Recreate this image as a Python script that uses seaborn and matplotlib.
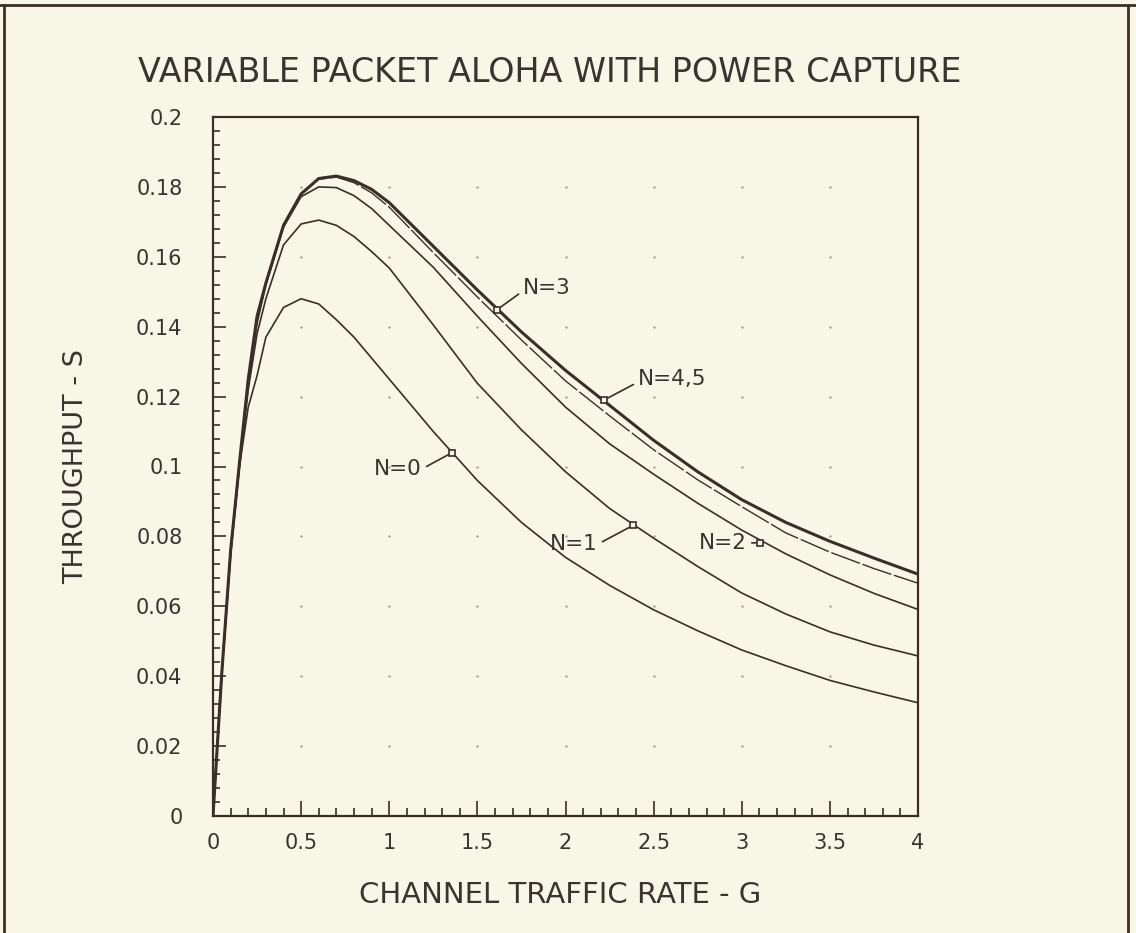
import matplotlib
matplotlib.use("Agg")
import matplotlib.pyplot as plt
import seaborn as sns
import numpy as np
from matplotlib.lines import Line2D

# data
g_rate = [0, 0.05, 0.1, 0.15, 0.2, 0.25, 0.3, 0.4, 0.5, 0.6, 0.7, 0.8, 0.9, 1.0,
          1.25, 1.5, 1.75, 2.0, 2.25, 2.5, 2.75, 3.0, 3.25, 3.5, 3.75, 4.0]

s_n0 = [0, 0.041, 0.075, 0.100, 0.117, 0.126, 0.137, 0.1455, 0.148, 0.1465, 0.142, 0.137, 0.131, 0.125,
        0.110, 0.096, 0.084, 0.074, 0.066, 0.059, 0.053, 0.0475, 0.043, 0.0388, 0.0355, 0.0324]
s_n1 = [0, 0.041, 0.075, 0.100, 0.122, 0.138, 0.148, 0.1634, 0.1694, 0.1705, 0.169, 0.1658, 0.1615, 0.1568,
        0.1405, 0.1238, 0.1105, 0.0985, 0.0880, 0.0795, 0.0714, 0.0638, 0.0578, 0.0527, 0.0489, 0.0458]
s_n2 = [0, 0.041, 0.076, 0.101, 0.124, 0.141, 0.152, 0.1685, 0.1772, 0.180, 0.1798, 0.1775, 0.1738, 0.169,
        0.157, 0.143, 0.1295, 0.117, 0.1065, 0.0978, 0.0895, 0.0818, 0.0750, 0.069, 0.0637, 0.0591]
s_n3 = [0, 0.041, 0.076, 0.101, 0.125, 0.143, 0.1525, 0.169, 0.178, 0.1822, 0.1828, 0.1812, 0.1783, 0.1742,
        0.1612, 0.1485, 0.1362, 0.1245, 0.1145, 0.1048, 0.0962, 0.0885, 0.081, 0.0755, 0.0708, 0.0666]
s_n45 = [0, 0.041, 0.076, 0.101, 0.125, 0.143, 0.1525, 0.169, 0.178, 0.1824, 0.1831, 0.1818, 0.1793, 0.1755,
         0.163, 0.1505, 0.1385, 0.1275, 0.1175, 0.1075, 0.0985, 0.0905, 0.084, 0.0786, 0.0738, 0.0692]

curve_labels = ["N=0", "N=1", "N=2", "N=3", "N=4,5"]
# where each label's leader line touches its curve
label_g = [1.354, 2.385, 3.103, 1.61, 2.218]
label_s = [0.1039, 0.0832, 0.0782, 0.1448, 0.119]

x_ticks = [0, 0.5, 1, 1.5, 2, 2.5, 3, 3.5, 4]
x_tick_labels = ["0", "0.5", "1", "1.5", "2", "2.5", "3", "3.5", "4"]
y_ticks = [0, 0.02, 0.04, 0.06, 0.08, 0.1, 0.12, 0.14, 0.16, 0.18, 0.2]
y_tick_labels = ["0", "0.02", "0.04", "0.06", "0.08", "0.1", "0.12", "0.14", "0.16", "0.18", "0.2"]

title = "VARIABLE PACKET ALOHA WITH POWER CAPTURE"
x_label = "CHANNEL TRAFFIC RATE - G"
y_label = "THROUGHPUT - S"

# style
sns.set_style("ticks")
plt.rcParams["font.family"] = ["DejaVu Sans"]

bg = "#f8f6e6"
ink = "#3b2e29"
text_ink = "#3a3430"

W, H = 1136, 933
fig = plt.figure(figsize=(W / 100, H / 100), dpi=100, facecolor=bg)
ax = fig.add_axes([213 / W, (H - 816) / H, (918 - 213) / W, (816 - 117) / H])
ax.set_facecolor(bg)

# faint dots where the grid would be
gx, gy = np.meshgrid(x_ticks[1:-1], y_ticks[1:-1])
ax.scatter(gx.ravel(), gy.ravel(), s=3, color="#a8a196", linewidths=0, zorder=1)

# curves
series = [s_n0, s_n1, s_n2, s_n3, s_n45]
widths = [1.2, 1.2, 1.2, 1.0, 2.2]
styles = ["-", "-", "-", (0, (22, 2)), "-"]
for vals, lw, ls in zip(series, widths, styles):
    sns.lineplot(x=g_rate, y=vals, ax=ax, color=ink, lw=lw, linestyle=ls, legend=False, zorder=3)

# labels with leader lines
text_pos = [(1.186, 0.0993, "right"), (2.184, 0.0778, "right"), (3.03, 0.0781, "right"),
            (1.759, 0.1511, "left"), (2.411, 0.125, "left")]
for lab, mg, ms, (tx, ty, ha) in zip(curve_labels, label_g, label_s, text_pos):
    rel = (1, 0.5) if ha == "right" else (0, 0.35)
    ax.annotate(lab, xy=(mg, ms), xytext=(tx, ty), ha=ha, va="center", fontsize=15.5,
                color=text_ink,
                arrowprops=dict(arrowstyle="-", color=ink, lw=1.2, shrinkA=1, shrinkB=2,
                                relpos=rel))
    ax.plot([mg], [ms], marker="s", ms=4.5, mfc=bg, mec=ink, mew=1.2, zorder=5)

ax.set_xlim(0, 4)
ax.set_ylim(0, 0.2)
ax.set_xticks(x_ticks)
ax.set_xticklabels(x_tick_labels)
ax.set_xticks(np.arange(0, 4.001, 0.1), minor=True)
ax.set_yticks(y_ticks)
ax.set_yticklabels(y_tick_labels)
ax.set_yticks(np.arange(0, 0.2001, 0.004), minor=True)

ax.tick_params(which="both", direction="in", color=ink, width=1.2, labelcolor=text_ink)
ax.tick_params(axis="x", which="major", length=11, pad=12, labelsize=15)
ax.tick_params(axis="x", which="minor", length=6)
ax.tick_params(axis="y", which="major", length=9, pad=22, labelsize=15)
ax.tick_params(axis="y", which="minor", length=5)
for sp in ax.spines.values():
    sp.set_color(ink)
    sp.set_linewidth(1.6)

ax.set_xlabel("")
ax.set_ylabel("")

fig.text(550 / W, 1 - 73 / H, title, ha="center", va="center", fontsize=24, color=text_ink)
fig.text(560 / W, 1 - 895 / H, x_label, ha="center", va="center", fontsize=21, color=text_ink)
fig.text(76 / W, 1 - 467 / H, y_label, ha="center", va="center", rotation=90, fontsize=19.5,
         color=text_ink)

# outer frame of the scanned page
fig.add_artist(Line2D([0, 1], [1 - 5 / H, 1 - 5 / H], transform=fig.transFigure, color=ink, lw=2))
fig.add_artist(Line2D([4 / W, 4 / W], [0, 1 - 5 / H], transform=fig.transFigure, color=ink, lw=2))
fig.add_artist(Line2D([1127.5 / W, 1127.5 / W], [0, 1 - 5 / H], transform=fig.transFigure, color=ink, lw=2))

fig.savefig("out.png", dpi=100, facecolor=bg)
